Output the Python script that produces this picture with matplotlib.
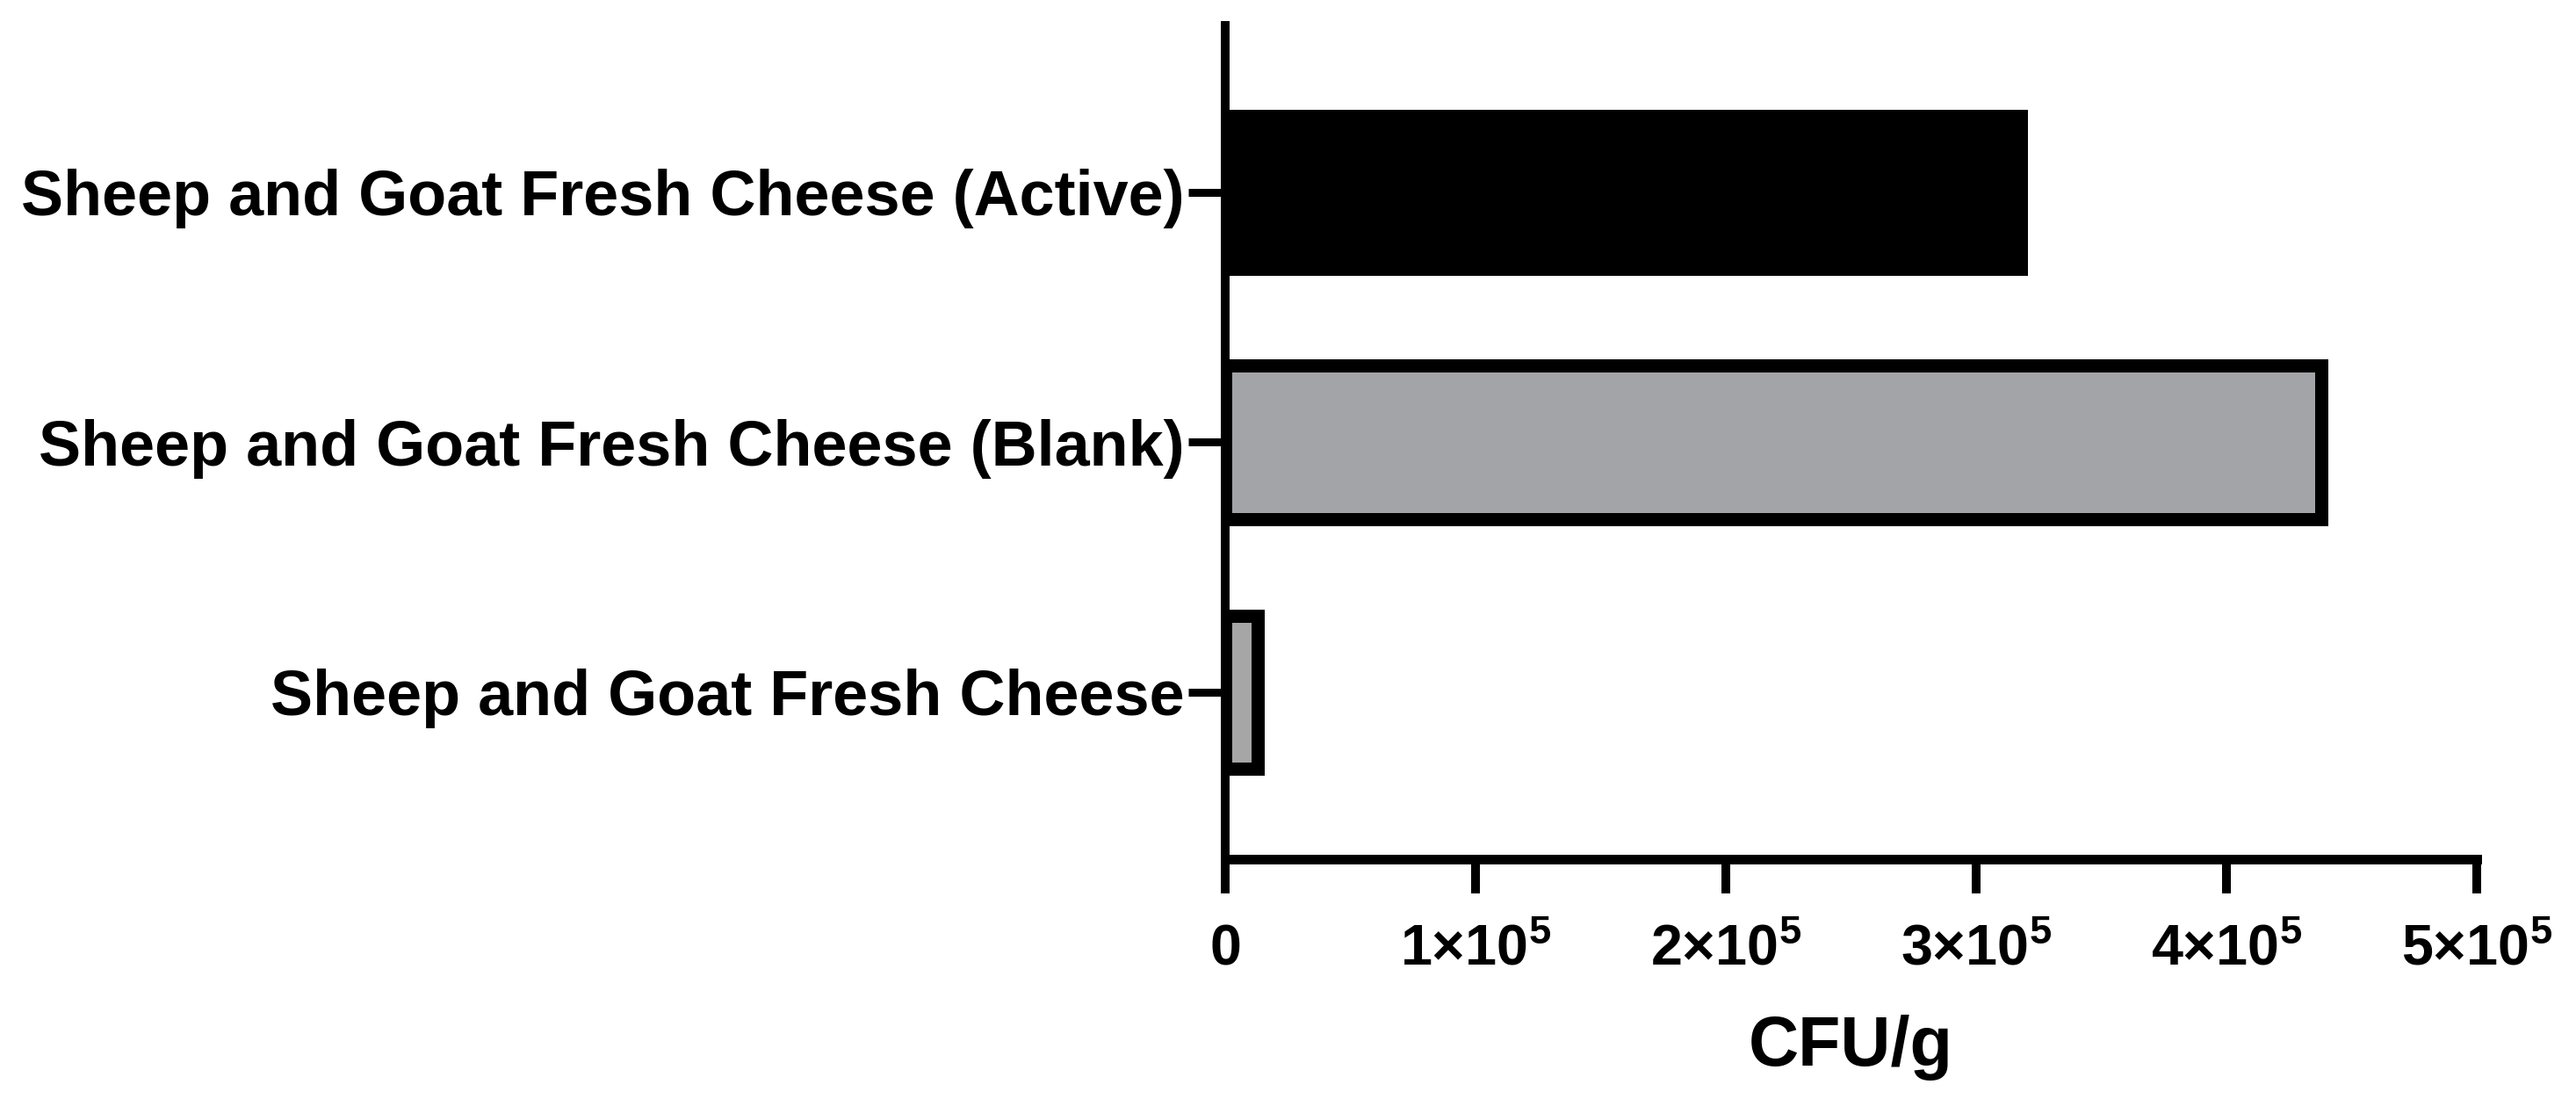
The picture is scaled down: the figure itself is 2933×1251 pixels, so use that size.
import matplotlib
matplotlib.use('Agg')
import matplotlib.pyplot as plt
from matplotlib.ticker import FixedLocator, FixedFormatter

# ---- data ----
categories = [
    "Sheep and Goat Fresh Cheese",
    "Sheep and Goat Fresh Cheese (Blank)",
    "Sheep and Goat Fresh Cheese (Active)",
]
values = [1.3e4, 4.38e5, 3.18e5]
bar_colors = ["#A6A6A6", "#A3A4A8", "#000000"]
x_ticks = [0, 1e5, 2e5, 3e5, 4e5, 5e5]
x_tick_labels = ["0", "1×10$^{5}$", "2×10$^{5}$", "3×10$^{5}$", "4×10$^{5}$", "5×10$^{5}$"]
x_label = "CFU/g"

# ---- style ----
plt.rcParams['font.family'] = ['Liberation Sans', 'DejaVu Sans']
plt.rcParams['font.weight'] = 'bold'
plt.rcParams['mathtext.fontset'] = 'custom'
plt.rcParams['mathtext.rm'] = 'Liberation Sans:bold'
plt.rcParams['mathtext.it'] = 'Liberation Sans:bold'
plt.rcParams['mathtext.bf'] = 'Liberation Sans:bold'
plt.rcParams['mathtext.default'] = 'bf'

W, H = 2933, 1251
fig = plt.figure(figsize=(W / 100, H / 100), dpi=100)
left_px, right_px, top_px, bottom_px = 1395, 2820, 24, 977.5
ax = fig.add_axes([left_px / W, 1 - bottom_px / H, (right_px - left_px) / W, (bottom_px - top_px) / H])

ypos = list(range(len(categories)))
ax.barh(ypos, values, height=0.614, color=bar_colors, edgecolor='black', linewidth=10.8, zorder=2)

ax.set_xlim(0, 5e5)
ax.set_ylim(-0.666, 2.685)

ax.yaxis.set_major_locator(FixedLocator(ypos))
ax.yaxis.set_major_formatter(FixedFormatter(categories))
ax.xaxis.set_major_locator(FixedLocator(x_ticks))
ax.xaxis.set_major_formatter(FixedFormatter(x_tick_labels))

for s in ['top', 'right']:
    ax.spines[s].set_visible(False)
ax.spines['left'].set_linewidth(7.2)
ax.spines['left'].set_capstyle('butt')
ax.spines['bottom'].set_linewidth(7.9)
ax.spines['bottom'].set_capstyle('projecting')
for s in ['left', 'bottom']:
    ax.spines[s].set_zorder(3)

ax.tick_params(axis='x', direction='out', length=28.4, width=7.2, pad=25, labelsize=46.5)
ax.tick_params(axis='y', direction='out', length=30, width=6.5, pad=3.6, labelsize=51.8)
for lbl in ax.get_xticklabels() + ax.get_yticklabels():
    lbl.set_fontweight('bold')

ax.set_xlabel(x_label, fontsize=57, fontweight='bold', labelpad=31)

fig.savefig('out.png', dpi=100)
